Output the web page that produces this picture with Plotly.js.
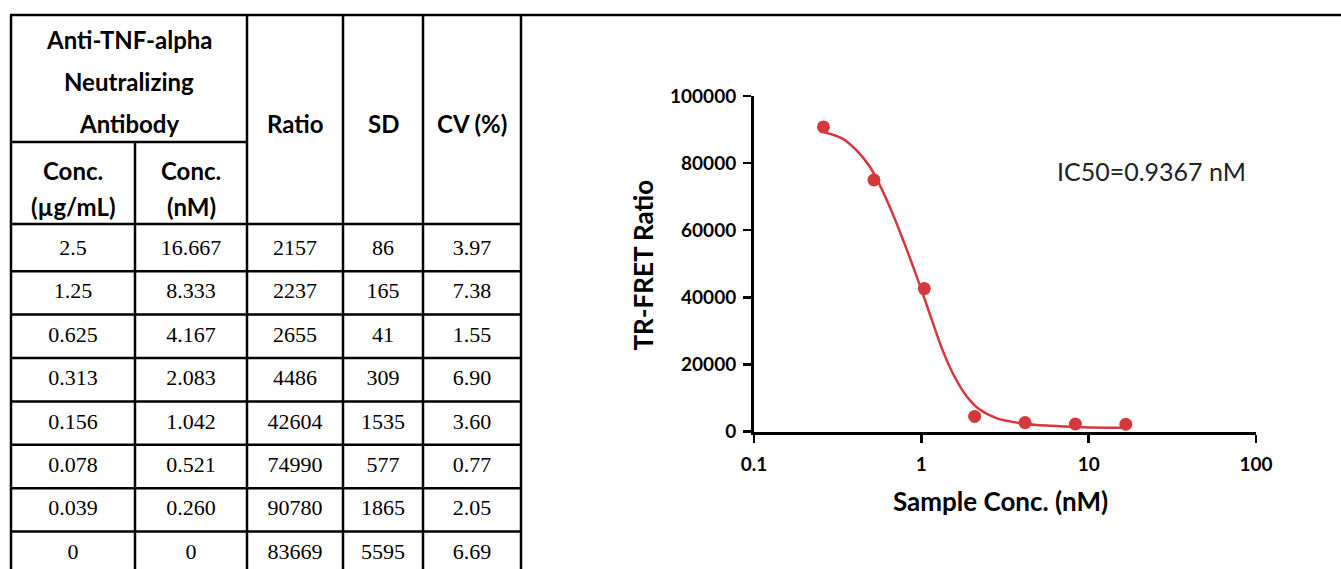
<!DOCTYPE html>
<html>
<head>
<meta charset="utf-8">
<script src="https://cdn.plot.ly/plotly-3.0.1.min.js"></script>
<style>
  html, body { margin: 0; padding: 0; background: #ffffff; }
  #chart { width: 1341px; height: 569px; }
</style>
</head>
<body>
<div id="chart"></div>
<script>
// ---------------- data ----------------
const headerTop = ['Anti-TNF-alpha', 'Neutralizing', 'Antibody'];
const headerSub = [['Conc.', '(µg/mL)'], ['Conc.', '(nM)']];
const headerCols = ['Ratio', 'SD', 'CV (%)'];

const concUgText = ['2.5', '1.25', '0.625', '0.313', '0.156', '0.078', '0.039', '0'];
const concNMText = ['16.667', '8.333', '4.167', '2.083', '1.042', '0.521', '0.260', '0'];
const ratioVals  = [2157, 2237, 2655, 4486, 42604, 74990, 90780, 83669];
const sdVals     = [86, 165, 41, 309, 1535, 577, 1865, 5595];
const cvText     = ['3.97', '7.38', '1.55', '6.90', '3.60', '0.77', '2.05', '6.69'];

// fitted curve
const fitX = [0.262, 0.338, 0.406, 0.488, 0.56, 0.673, 0.81, 0.973, 1.164, 1.336, 1.533, 1.86, 2.225, 2.81, 4.02, 5.84, 9.2, 16.9];
const fitY = [89200, 87300, 84000, 79200, 73800, 65000, 54800, 44000, 32800, 24400, 17600, 10600, 6600, 4000, 2400, 1700, 1300, 1100];

const xTickVals = [0.1, 1, 10, 100];
const xTickText = ['0.1', '1', '10', '100'];
const yTickVals = [0, 20000, 40000, 60000, 80000, 100000];
const yTickText = ['0', '20000', '40000', '60000', '80000', '100000'];

const xTitle = 'Sample Conc. (nM)';
const yTitle = 'TR-FRET Ratio';
const ic50Text = 'IC50=0.9367 nM';

// ---------------- layout constants (pixels) ----------------
const W = 1341, H = 569;
const colEdges = [11, 135, 247, 343, 423, 521];
const tableTop = 15, headerMid = 142, headerBottom = 224;
const firstRowCenter = 249.5, rowPitch = 43.4;
const nRows = concUgText.length;
const LW = 2.5;
const red = 'rgb(212,56,61)';

function py(p) { return 1 - p / H; }
function px(p) { return p / W; }

// ---------------- table text trace ----------------
const columns = [concUgText, concNMText, ratioVals.map(String), sdVals.map(String), cvText];
const tx = [], ty = [], tt = [];
for (let c = 0; c < columns.length; c++) {
  const cx = (colEdges[c] + colEdges[c + 1]) / 2;
  for (let r = 0; r < nRows; r++) {
    tx.push(cx); ty.push(r); tt.push(columns[c][r]);
  }
}
const tableText = {
  type: 'scatter', mode: 'text', x: tx, y: ty, text: tt,
  xaxis: 'x2', yaxis: 'y2', hoverinfo: 'skip', showlegend: false, cliponaxis: false,
  textposition: 'middle center',
  textfont: { family: 'Liberation Serif, Times New Roman, serif', size: 22, color: '#000' }
};

// y2 range in row units so row r sits at firstRowCenter + r*rowPitch px
const y2Top = -firstRowCenter / rowPitch;
const y2Bottom = (H - firstRowCenter) / rowPitch;

// ---------------- chart traces ----------------
const ptsX = [], ptsY = [];
for (let i = 0; i < nRows; i++) {
  const v = parseFloat(concNMText[i]);
  if (v > 0) { ptsX.push(v); ptsY.push(ratioVals[i]); }
}
const curve = {
  type: 'scatter', mode: 'lines', x: fitX, y: fitY,
  line: { color: red, width: 2.5, shape: 'spline', smoothing: 1 },
  hoverinfo: 'skip', showlegend: false
};
const points = {
  type: 'scatter', mode: 'markers', x: ptsX, y: ptsY,
  marker: { color: red, size: 13, line: { width: 0 } },
  showlegend: false, cliponaxis: false
};

// ---------------- shapes: table grid & top rule ----------------
const shapes = [];
function hline(x0, x1, yPix) {
  shapes.push({ type: 'line', xref: 'paper', yref: 'paper', x0: px(x0), x1: px(x1), y0: py(yPix), y1: py(yPix), line: { color: '#000', width: LW } });
}
function vline(xPix, y0, y1) {
  shapes.push({ type: 'line', xref: 'paper', yref: 'paper', x0: px(xPix), x1: px(xPix), y0: py(y0), y1: py(y1), line: { color: '#000', width: LW } });
}
hline(colEdges[0] - 1, W, tableTop);
hline(colEdges[0], colEdges[2], headerMid);
hline(colEdges[0], colEdges[5], headerBottom);
vline(colEdges[0], tableTop, H + 5);
vline(colEdges[1], headerMid, H + 5);
vline(colEdges[2], tableTop, H + 5);
vline(colEdges[3], tableTop, H + 5);
vline(colEdges[4], tableTop, H + 5);
vline(colEdges[5], tableTop, H + 5);
for (let r = 0; r < nRows - 1; r++) {
  shapes.push({ type: 'line', xref: 'x2', yref: 'y2', x0: colEdges[0], x1: colEdges[5], y0: r + 0.5, y1: r + 0.5, line: { color: '#000', width: LW } });
}

// ---------------- annotations ----------------
const hdrFont = { family: 'Lato, sans-serif', size: 24, color: '#000', weight: 700 };
const annotations = [];
const topYs = [39, 82, 124];
headerTop.forEach((t, i) => annotations.push({
  xref: 'paper', yref: 'paper', x: px((colEdges[0] + colEdges[2]) / 2), y: py(topYs[i]),
  text: t, showarrow: false, xanchor: 'center', yanchor: 'middle', font: hdrFont
}));
const subYs = [170, 206];
headerSub.forEach((lines, c) => lines.forEach((t, j) => annotations.push({
  xref: 'paper', yref: 'paper', x: px((colEdges[c] + colEdges[c + 1]) / 2), y: py(subYs[j]),
  text: t, showarrow: false, xanchor: 'center', yanchor: 'middle', font: hdrFont
})));
headerCols.forEach((t, k) => annotations.push({
  xref: 'paper', yref: 'paper', x: px((colEdges[k + 2] + colEdges[k + 3]) / 2), y: py(124),
  text: t, showarrow: false, xanchor: 'center', yanchor: 'middle', font: hdrFont
}));
annotations.push({
  xref: 'paper', yref: 'paper', x: px(1000), y: py(501), text: xTitle, showarrow: false,
  xanchor: 'center', yanchor: 'middle', font: { family: 'Lato, sans-serif', size: 26, color: '#000', weight: 700 }
});
annotations.push({
  xref: 'paper', yref: 'paper', x: px(642), y: py(265.5), text: yTitle, showarrow: false, textangle: -90,
  xanchor: 'center', yanchor: 'middle', font: { family: 'Lato, sans-serif', size: 26, color: '#000', weight: 700 }
});
annotations.push({
  xref: 'paper', yref: 'paper', x: px(1151), y: py(171), text: ic50Text, showarrow: false,
  xanchor: 'center', yanchor: 'middle', font: { family: 'Lato, sans-serif', size: 25, color: '#222' }
});

const tickFont = { family: 'Lato, sans-serif', size: 19, color: '#000', weight: 700 };

const layout = {
  width: W, height: H,
  margin: { l: 0, r: 0, t: 0, b: 0, pad: 0 },
  paper_bgcolor: '#fff', plot_bgcolor: 'rgba(0,0,0,0)',
  showlegend: false,
  xaxis: {
    type: 'log', range: [-1, 2], domain: [px(754), px(1256)],
    tickvals: xTickVals, ticktext: xTickText,
    ticks: 'outside', ticklen: 8, tickwidth: LW, tickcolor: '#000',
    showline: true, linewidth: 3, linecolor: '#000',
    showgrid: false, zeroline: false, tickfont: tickFont, ticklabelstandoff: 6,
    anchor: 'y', fixedrange: true
  },
  yaxis: {
    range: [0, 100000], domain: [py(431.5), py(96)],
    tickvals: yTickVals, ticktext: yTickText,
    ticks: 'outside', ticklen: 8, tickwidth: LW, tickcolor: '#000',
    showline: true, linewidth: 3, linecolor: '#000',
    showgrid: false, zeroline: false, tickfont: tickFont, ticklabelstandoff: 3,
    anchor: 'x', fixedrange: true
  },
  xaxis2: { domain: [0, 1], range: [0, W], visible: false, anchor: 'y2', fixedrange: true },
  yaxis2: { domain: [0, 1], range: [y2Bottom, y2Top], visible: false, anchor: 'x2', fixedrange: true },
  shapes: shapes,
  annotations: annotations
};

Plotly.newPlot('chart', [tableText, curve, points], layout, { staticPlot: true, displayModeBar: false });
</script>
</body>
</html>
